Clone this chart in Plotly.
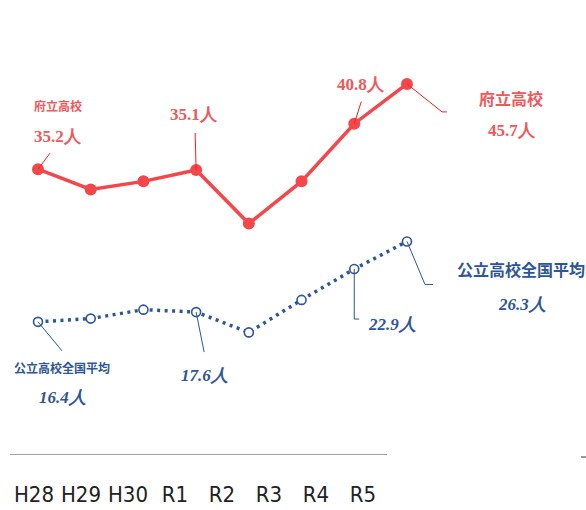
import plotly.graph_objects as go

years = ["H28", "H29", "H30", "R1", "R2", "R3", "R4", "R5"]
fu_values = [35.2, 32.7, 33.7, 35.1, 28.5, 33.7, 40.8, 45.7]
zenkoku_values = [16.4, 16.8, 17.9, 17.6, 15.1, 19.1, 22.9, 26.3]

RED = "#f4474c"
RED_TXT = "#f0575a"
BLUE = "#2e5596"
idx = list(range(len(years)))

fig = go.Figure()
fig.add_trace(go.Scatter(
    x=idx, y=fu_values, mode="lines+markers",
    line=dict(color=RED, width=3.5),
    marker=dict(color=RED, size=12),
    hoverinfo="skip", showlegend=False))
fig.add_trace(go.Scatter(
    x=idx, y=zenkoku_values, mode="lines+markers",
    line=dict(color=BLUE, width=3.5, dash="3px,4.5px"),
    marker=dict(color="white", size=9, line=dict(color=BLUE, width=1.6)),
    hoverinfo="skip", showlegend=False))
# invisible trace for the label axis
fig.add_trace(go.Scatter(x=idx, y=[None]*len(idx), xaxis="x2", mode="markers",
                         showlegend=False, hoverinfo="skip"))

num_font_r = dict(family="Liberation Serif, DejaVu Serif, serif", size=17, color=RED_TXT)
num_font_b = dict(family="Liberation Serif, DejaVu Serif, serif", size=17, color=BLUE)

def txt(i, y, s, dx, dy, font, bold=True, italic=False):
    t = s
    if bold:
        t = "<b>" + t + "</b>"
    if italic:
        t = "<i>" + t + "</i>"
    fig.add_annotation(x=i, y=y, xref="x", yref="y", text=t, showarrow=False,
                       xshift=dx, yshift=dy, font=font, xanchor="center", yanchor="middle")

def leader(i, y, path, color, width=1):
    fig.add_shape(type="path", xref="x", yref="y", xsizemode="pixel", ysizemode="pixel",
                  xanchor=i, yanchor=y, path=path,
                  line=dict(color=color, width=width))

# red annotations
txt(0, fu_values[0], "府立高校", 20, 64, dict(family="Noto Sans CJK JP", size=12, color=RED_TXT))
txt(0, fu_values[0], f"{fu_values[0]}人", 20, 33, num_font_r)
leader(0, fu_values[0], "M0,0 L12,16", "#ff1a1a")
txt(3, fu_values[3], f"{fu_values[3]}人", -2, 55, num_font_r)
leader(3, fu_values[3], "M0,0 L-1,37", "#ff1a1a")
txt(6, fu_values[6], f"{fu_values[6]}人", 7, 39, num_font_r)
leader(6, fu_values[6], "M0,0 L7,22", "#ff1a1a")
txt(7, fu_values[7], "府立高校", 104, -14, dict(family="Noto Sans CJK JP", size=16, color=RED_TXT))
txt(7, fu_values[7], f"{fu_values[7]}人", 105, -47, num_font_r)
leader(7, fu_values[7], "M0,0 L35,-28 L40,-28", "#ff1a1a")

# blue annotations
txt(0, zenkoku_values[0], "公立高校全国平均", 24, -46, dict(family="Noto Sans CJK JP", size=12, color=BLUE))
txt(0, zenkoku_values[0], f"{zenkoku_values[0]}人", 24, -76, num_font_b, italic=True)
leader(0, zenkoku_values[0], "M0,0 L24,-29", BLUE)
txt(3, zenkoku_values[3], f"{zenkoku_values[3]}人", 8, -63, num_font_b, italic=True)
leader(3, zenkoku_values[3], "M0,0 L8,-40", BLUE)
txt(6, zenkoku_values[6], f"{zenkoku_values[6]}人", 38, -55, num_font_b, italic=True)
leader(6, zenkoku_values[6], "M0,0 L0,-50 L5,-50", BLUE)
txt(7, zenkoku_values[7], "公立高校全国平均", 114, -28, dict(family="Noto Sans CJK JP", size=16, color=BLUE))
txt(7, zenkoku_values[7], f"{zenkoku_values[7]}人", 115, -63, num_font_b, italic=True)
leader(7, zenkoku_values[7], "M0,0 L18,-43 L26,-43", BLUE)

# baseline
fig.add_shape(type="line", xref="paper", yref="y", x0=10/586, x1=387/586, y0=0, y1=0,
              line=dict(color="#444444", width=1))
fig.add_shape(type="line", xref="paper", yref="paper", x0=581/586, x1=586/586,
              y0=-0.005, y1=-0.005, line=dict(color="#777777", width=1.5))

fig.update_layout(
    width=586, height=510,
    margin=dict(l=0, r=0, t=49, b=55, autoexpand=False),
    paper_bgcolor="white", plot_bgcolor="white",
    xaxis=dict(range=[-38/52.71, (586-38)/52.71], showgrid=False, zeroline=False,
               showline=False, showticklabels=False, fixedrange=True, automargin=False),
    xaxis2=dict(overlaying="x", side="bottom", anchor="y",
                range=[-34/47.0, (586-34)/47.0], tickmode="array", tickvals=idx, ticktext=years,
                showgrid=False, zeroline=False, showline=False, ticks="",
                tickangle=0, automargin=False,
                ticklabelstandoff=24,
                tickfont=dict(family="DejaVu Sans Condensed, Roboto Condensed, Liberation Sans Narrow, Roboto",
                              size=22, color="#222222")),
    yaxis=dict(range=[0, 50], showgrid=False, zeroline=False, showline=False,
               showticklabels=False, fixedrange=True, automargin=False),
)

fig.write_html("out.html", config={"displayModeBar": False},
               post_script="document.body.style.margin='0';document.body.style.padding='0';")
